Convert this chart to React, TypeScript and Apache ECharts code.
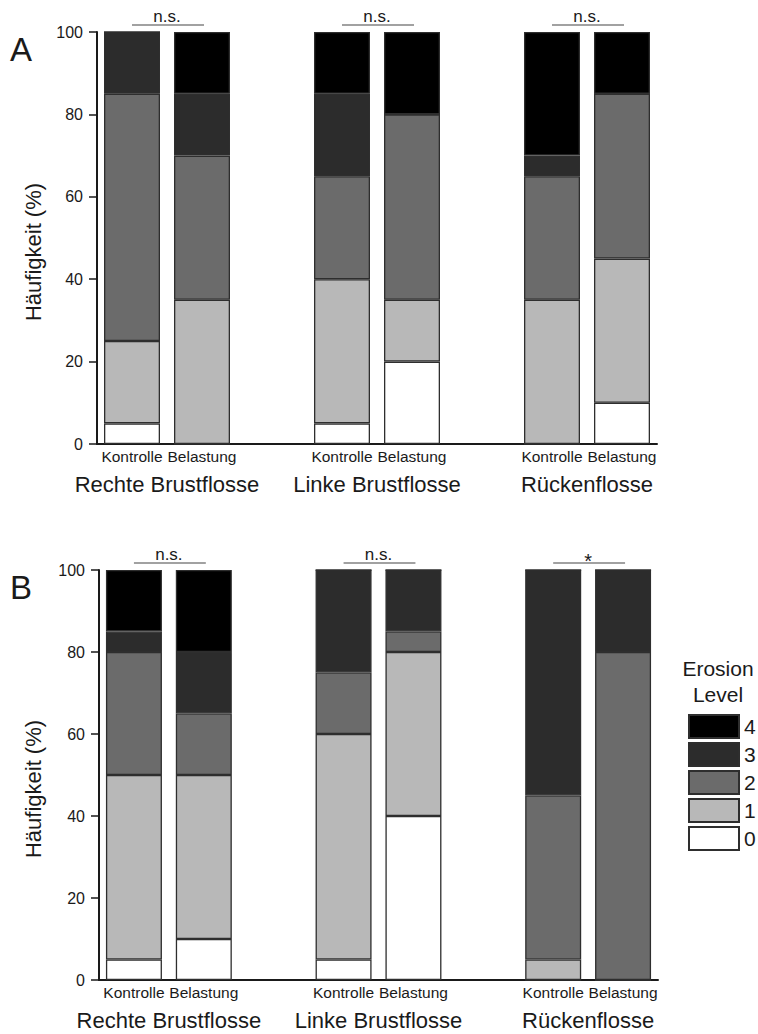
import React, { useEffect, useRef } from 'react';
import * as echarts from 'echarts';

const categories = ['Kontrolle', 'Belastung', '', 'Kontrolle', 'Belastung', '', 'Kontrolle', 'Belastung'];
const groups = ['Rechte Brustflosse', 'Linke Brustflosse', 'Rückenflosse'];
const levels = ['0', '1', '2', '3', '4'];
const legendOrder = ['4', '3', '2', '1', '0'];
const levelColors = ['#ffffff', '#b8b8b8', '#6b6b6b', '#2c2c2c', '#000000'];
const significanceA = ['n.s.', 'n.s.', 'n.s.'];
const significanceB = ['n.s.', 'n.s.', '*'];
const panelLetters = ['A', 'B'];

// Panel A (percent per erosion level; null = gap slot)
const aLevel0 = [5, 0, null, 5, 20, null, 0, 10];
const aLevel1 = [20, 35, null, 35, 15, null, 35, 35];
const aLevel2 = [60, 35, null, 25, 45, null, 30, 40];
const aLevel3 = [15, 15, null, 20, 0, null, 5, 0];
const aLevel4 = [0, 15, null, 15, 20, null, 30, 15];

// Panel B
const bLevel0 = [5, 10, null, 5, 40, null, 0, 0];
const bLevel1 = [45, 40, null, 55, 40, null, 5, 0];
const bLevel2 = [30, 15, null, 15, 5, null, 40, 80];
const bLevel3 = [5, 15, null, 25, 15, null, 55, 20];
const bLevel4 = [15, 20, null, 0, 0, null, 0, 0];

const panelData = [
  [aLevel0, aLevel1, aLevel2, aLevel3, aLevel4],
  [bLevel0, bLevel1, bLevel2, bLevel3, bLevel4],
];
const significance = [significanceA, significanceB];

const FONT = '"Liberation Sans", Arial, Helvetica, sans-serif';
const TXT = '#1a1a1a';

export default function App() {
  const ref = useRef<HTMLDivElement>(null);

  useEffect(() => {
    document.body.style.margin = '0';
    if (!ref.current) return;
    const chart = echarts.init(ref.current, undefined, { renderer: 'svg' });

    const grids = [
      { left: 97, top: 32, width: 560, height: 412 },
      { left: 99, top: 570, width: 559, height: 410 },
    ];

    const xAxes = grids.map((_, p) => ({
      type: 'category',
      gridIndex: p,
      data: categories,
      axisTick: { show: false },
      axisLine: { show: true, lineStyle: { color: '#1a1a1a', width: 2 } },
      axisLabel: { interval: 0, fontSize: 15.5, margin: 4, color: TXT, fontFamily: FONT },
    }));

    const yAxes = grids.map((_, p) => ({
      type: 'value',
      gridIndex: p,
      min: 0,
      max: 100,
      interval: 20,
      splitLine: { show: false },
      axisLine: { show: true, lineStyle: { color: '#1a1a1a', width: 2 } },
      axisTick: { show: true, length: 8, lineStyle: { color: '#1a1a1a', width: 1.5 } },
      axisLabel: { fontSize: 16, margin: 14, color: TXT, fontFamily: FONT },
    }));

    const series: any[] = [];
    panelData.forEach((levelArrays, p) => {
      levelArrays.forEach((arr, l) => {
        series.push({
          type: 'bar',
          name: levels[l],
          xAxisIndex: p,
          yAxisIndex: p,
          stack: 'panel' + p,
          barWidth: 56,
          data: arr.map((v) => (v === null ? '-' : v)),
          itemStyle: { color: levelColors[l], borderColor: '#2e2e2e', borderWidth: 1.3 },
          silent: true,
        });
      });
    });

    chart.setOption({
      animation: false,
      backgroundColor: '#ffffff',
      textStyle: { fontFamily: FONT },
      grid: grids.map((g) => ({ ...g, outerBoundsMode: 'none' })),
      xAxis: xAxes,
      yAxis: yAxes,
      legend: {
        data: legendOrder,
        orient: 'vertical',
        left: 688,
        top: 714,
        padding: 0,
        itemWidth: 50,
        itemHeight: 23,
        itemGap: 3,
        icon: 'rect',
        selectedMode: false,
        textStyle: { fontSize: 21, color: TXT, fontFamily: FONT },
      },
      series,
    });

    const graphics: any[] = [];
    [0, 1].forEach((p) => {
      const top = chart.convertToPixel({ yAxisIndex: p }, 100) as number;
      const bottom = chart.convertToPixel({ yAxisIndex: p }, 0) as number;
      groups.forEach((name, g) => {
        const x1 = chart.convertToPixel({ xAxisIndex: p }, g * 3) as number;
        const x2 = chart.convertToPixel({ xAxisIndex: p }, g * 3 + 1) as number;
        const mid = (x1 + x2) / 2;
        const sig = significance[p][g];
        graphics.push({
          type: 'line',
          shape: { x1, y1: top - 7, x2: x2 + 2, y2: top - 7 },
          style: { stroke: '#444444', lineWidth: 1.2 },
          silent: true,
        });
        graphics.push({
          type: 'text',
          x: mid,
          y: sig === '*' ? top - 9 : top - 15.5,
          style: {
            text: sig,
            fontSize: sig === '*' ? 20 : 17,
            fontFamily: FONT,
            fill: TXT,
            align: 'center',
            verticalAlign: 'middle',
          },
          silent: true,
        });
        graphics.push({
          type: 'text',
          x: mid,
          y: bottom + 40,
          style: {
            text: name,
            fontSize: 22,
            fontFamily: FONT,
            fill: TXT,
            align: 'center',
            verticalAlign: 'middle',
          },
          silent: true,
        });
      });
      graphics.push({
        type: 'text',
        x: 33,
        y: (top + bottom) / 2 + 14,
        rotation: Math.PI / 2,
        style: {
          text: 'Häufigkeit (%)',
          fontSize: 22,
          fontFamily: FONT,
          fill: TXT,
          align: 'center',
          verticalAlign: 'middle',
        },
        silent: true,
      });
      graphics.push({
        type: 'text',
        x: 10,
        y: top + 1,
        style: {
          text: panelLetters[p],
          fontSize: 33,
          fontFamily: FONT,
          fill: TXT,
          align: 'left',
          verticalAlign: 'top',
        },
        silent: true,
      });
    });
    graphics.push({
      type: 'text',
      x: 718,
      y: 681,
      style: {
        text: 'Erosion\nLevel',
        fontSize: 21,
        lineHeight: 26,
        fontFamily: FONT,
        fill: TXT,
        align: 'center',
        verticalAlign: 'middle',
      },
      silent: true,
    });

    chart.setOption({ graphic: graphics });

    return () => {
      chart.dispose();
    };
  }, []);

  return <div ref={ref} style={{ width: 758, height: 1034 }} />;
}
